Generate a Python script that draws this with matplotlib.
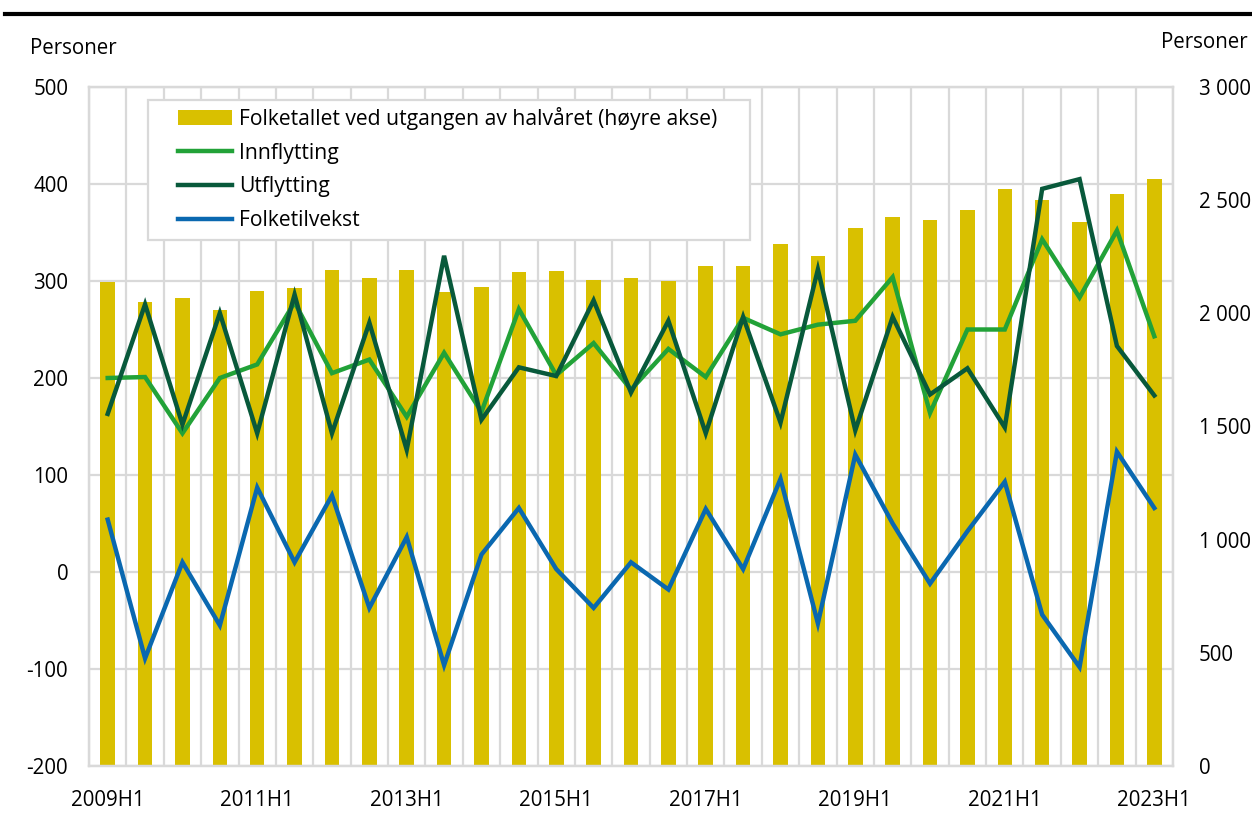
import matplotlib
matplotlib.use("Agg")
import matplotlib.pyplot as plt
from matplotlib.transforms import blended_transform_factory
from matplotlib.patches import Rectangle, Patch
from matplotlib.lines import Line2D

# ---------------- data ----------------
periods = [f"{y}H{h}" for y in range(2009, 2024) for h in (1, 2)][:29]

folketall = [2137, 2050, 2066, 2015, 2100, 2111, 2191, 2155, 2191, 2096,
             2115, 2181, 2186, 2147, 2157, 2143, 2209, 2210, 2306, 2255,
             2376, 2425, 2414, 2455, 2548, 2501, 2402, 2526, 2593]
innflytting = [200, 201, 143, 200, 214, 278, 205, 219, 160, 226,
               165, 271, 203, 236, 188, 230, 201, 262, 245, 255,
               259, 304, 164, 250, 250, 343, 283, 352, 243]
utflytting = [163, 276, 152, 267, 143, 286, 143, 257, 126, 326,
              157, 211, 202, 280, 185, 259, 143, 263, 154, 312,
              146, 263, 183, 210, 149, 395, 405, 233, 182]
folketilvekst = [54, -89, 10, -55, 87, 10, 79, -37, 36, -96,
                 18, 66, 3, -37, 10, -18, 65, 3, 96, -53,
                 121, 50, -12, 42, 93, -44, -98, 124, 66]

left_ticks = [-200, -100, 0, 100, 200, 300, 400, 500]
right_ticks = [0, 500, 1000, 1500, 2000, 2500, 3000]
right_labels = ["0", "500", "1 000", "1 500", "2 000", "2 500", "3 000"]

labels = ["Folketallet ved utgangen av halvåret (høyre akse)",
          "Innflytting", "Utflytting", "Folketilvekst"]

# ---------------- style ----------------
plt.rcParams["font.family"] = ["Open Sans", "DejaVu Sans"]
fs = 14.8
fs_leg = 15.2
c_bar = "#d9c000"
c_inn = "#22a238"
c_ut = "#08593b"
c_til = "#0a68b0"
c_grid = "#d9d9d9"

W, H = 1252, 817
L, R, T, B = 89, 1173, 87, 766

fig = plt.figure(figsize=(W / 100, H / 100), dpi=100)
ax = fig.add_axes([L / W, 1 - B / H, (R - L) / W, (B - T) / H])  # lines, left axis
axb = ax.twinx()                                                   # bars, right axis
ax.set_zorder(axb.get_zorder() + 1)
ax.patch.set_visible(False)

x = list(range(len(periods)))

# bars
axb.bar(x, folketall, width=0.39, color=c_bar, zorder=2)
axb.set_ylim(0, 3000)
axb.set_yticks(right_ticks)
axb.set_yticklabels(right_labels)

# grid (behind bars)
ax.set_ylim(-200, 500)
ax.set_xlim(-0.5, len(periods) - 0.5)
tr = blended_transform_factory(axb.transAxes, ax.transData)
for v in left_ticks:
    axb.add_line(Line2D([0, 1], [v, v], transform=tr, color=c_grid, lw=1.6, zorder=1))
for i in range(len(periods) + 1):
    axb.axvline(i - 0.5, color=c_grid, lw=1.6, zorder=1)

# lines
ax.plot(x, innflytting, color=c_inn, lw=3.2, zorder=3, solid_joinstyle="miter")
ax.plot(x, utflytting, color=c_ut, lw=3.2, zorder=3, solid_joinstyle="miter")
ax.plot(x, folketilvekst, color=c_til, lw=3.2, zorder=3, solid_joinstyle="miter")

ax.set_yticks(left_ticks)
ax.set_yticklabels([str(v) for v in left_ticks])
ax.set_xticks(x[::4])
ax.set_xticklabels(periods[::4])

ax.tick_params(axis="y", length=0, pad=15, labelsize=fs)
ax.tick_params(axis="x", length=0, pad=17, labelsize=fs)
axb.tick_params(axis="y", length=0, pad=18.5, labelsize=fs)

for a in (ax, axb):
    for s in a.spines.values():
        s.set_color(c_grid)
        s.set_linewidth(1.6)

# legend with frame
fig.add_artist(Rectangle((148 / W, 1 - 240 / H), (750 - 148) / W, 140 / H,
                         transform=fig.transFigure, facecolor="white",
                         edgecolor=c_grid, lw=1.6, zorder=4))
handles = [Patch(facecolor=c_bar),
           Line2D([], [], color=c_inn, lw=3.2),
           Line2D([], [], color=c_ut, lw=3.2),
           Line2D([], [], color=c_til, lw=3.2)]
leg = fig.legend(handles, labels, loc="upper left",
                 bbox_to_anchor=(178 / W, 1 - 107 / H), frameon=False,
                 borderpad=0, borderaxespad=0, handlelength=2.55,
                 handletextpad=0.35, labelspacing=0.6, fontsize=fs_leg)
leg.set_zorder(5)

# top rule and axis titles
fig.add_artist(Line2D([5 / W, 1], [1 - 13.5 / H] * 2, color="black", lw=3,
                      transform=fig.transFigure))
fig.text(30 / W, 1 - 48 / H, "Personer", ha="left", va="center", fontsize=fs)
fig.text(1248 / W, 1 - 43 / H, "Personer", ha="right", va="center", fontsize=fs)

fig.savefig("out.png", dpi=100, facecolor="white")
